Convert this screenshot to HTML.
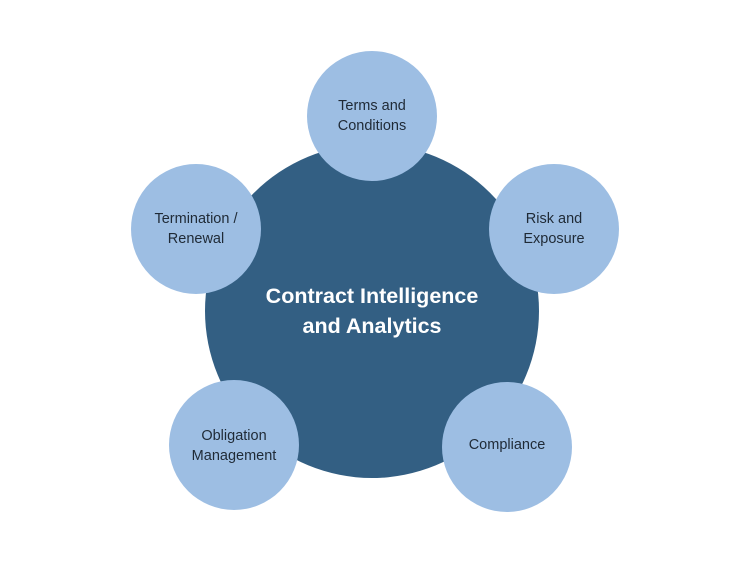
<!DOCTYPE html>
<html><head><meta charset="utf-8"><style>
html,body{margin:0;padding:0;background:#fff;}
</style></head><body>
<svg width="750" height="563" viewBox="0 0 750 563" xmlns="http://www.w3.org/2000/svg">
<circle cx="372" cy="311" r="167" fill="#335f83"/>
<g fill="#9dbee3">
<circle cx="372" cy="116" r="65"/>
<circle cx="196" cy="229" r="65"/>
<circle cx="554" cy="229" r="65"/>
<circle cx="234" cy="445" r="65"/>
<circle cx="507" cy="447" r="65"/>
</g>
<g font-family="Liberation Sans, sans-serif" font-size="14.5" fill="#1f2a36" text-anchor="middle">
<text x="372" y="110">Terms and</text>
<text x="372" y="130">Conditions</text>
<text x="196" y="223">Termination /</text>
<text x="196" y="243">Renewal</text>
<text x="554" y="223">Risk and</text>
<text x="554" y="243">Exposure</text>
<text x="234" y="440">Obligation</text>
<text x="234" y="460">Management</text>
<text x="507" y="449">Compliance</text>
</g>
<g font-family="Liberation Sans, sans-serif" font-size="21.5" font-weight="bold" fill="#fff" text-anchor="middle">
<text x="372" y="303">Contract Intelligence</text>
<text x="372" y="333">and Analytics</text>
</g>
</svg>
</body></html>
